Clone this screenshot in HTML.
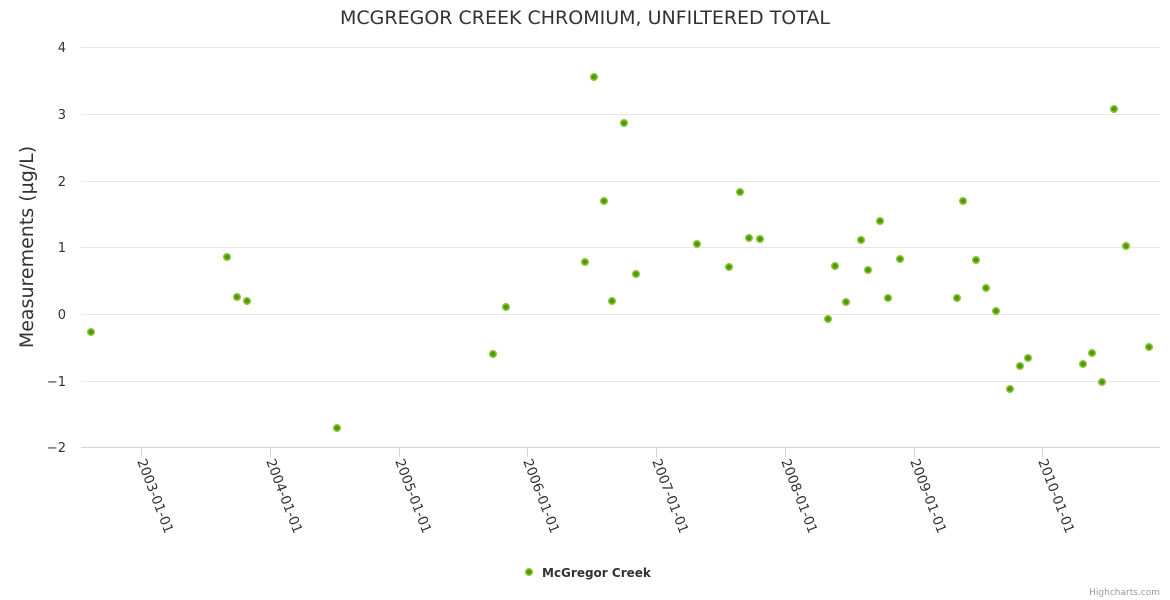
<!DOCTYPE html>
<html><head><meta charset="utf-8"><style>body{margin:0;background:#fff}svg{display:block;font-family:"DejaVu Sans",sans-serif}</style></head><body>
<svg width="1170" height="600" xmlns="http://www.w3.org/2000/svg">
<rect width="1170" height="600" fill="#fff"/>
<text x="585" y="24" text-anchor="middle" font-size="19" fill="#333">MCGREGOR CREEK CHROMIUM, UNFILTERED TOTAL</text>
<g stroke="#e6e6e6" stroke-width="1">
<line x1="81" y1="47.5" x2="1160" y2="47.5"/><line x1="81" y1="114.5" x2="1160" y2="114.5"/><line x1="81" y1="181.5" x2="1160" y2="181.5"/><line x1="81" y1="247.5" x2="1160" y2="247.5"/><line x1="81" y1="314.5" x2="1160" y2="314.5"/><line x1="81" y1="381.5" x2="1160" y2="381.5"/>
</g>
<line x1="81" y1="447.5" x2="1160" y2="447.5" stroke="#ccd6eb"/>
<g stroke="#ccd6eb"><line x1="141.5" y1="447" x2="141.5" y2="457"/><line x1="270.5" y1="447" x2="270.5" y2="457"/><line x1="399.5" y1="447" x2="399.5" y2="457"/><line x1="527.5" y1="447" x2="527.5" y2="457"/><line x1="656.5" y1="447" x2="656.5" y2="457"/><line x1="785.5" y1="447" x2="785.5" y2="457"/><line x1="914.5" y1="447" x2="914.5" y2="457"/><line x1="1042.5" y1="447" x2="1042.5" y2="457"/></g>
<g font-size="13" fill="#333" text-anchor="end">
<text x="66" y="52">4</text><text x="66" y="119">3</text><text x="66" y="186">2</text><text x="66" y="252">1</text><text x="66" y="319">0</text><text x="66" y="386">−1</text><text x="66" y="452">−2</text>
</g>
<text transform="translate(33,247) rotate(-90)" text-anchor="middle" font-size="19" fill="#333">Measurements (µg/L)</text>
<g font-size="13.5" fill="#333">
<text transform="translate(137,461) rotate(69)">2003-01-01</text>
<text transform="translate(266,461) rotate(69)">2004-01-01</text>
<text transform="translate(395,461) rotate(69)">2005-01-01</text>
<text transform="translate(523,461) rotate(69)">2006-01-01</text>
<text transform="translate(652,461) rotate(69)">2007-01-01</text>
<text transform="translate(781,461) rotate(69)">2008-01-01</text>
<text transform="translate(910,461) rotate(69)">2009-01-01</text>
<text transform="translate(1038,461) rotate(69)">2010-01-01</text>
</g>
<g fill="#4f9a00" stroke="#8cc63f" stroke-width="1.5">
<circle cx="91" cy="332" r="3.3"/><circle cx="227" cy="257" r="3.3"/><circle cx="237" cy="297" r="3.3"/><circle cx="247" cy="301" r="3.3"/><circle cx="337" cy="428" r="3.3"/><circle cx="493" cy="354" r="3.3"/><circle cx="506" cy="307" r="3.3"/><circle cx="585" cy="262" r="3.3"/><circle cx="594" cy="77" r="3.3"/><circle cx="604" cy="201" r="3.3"/><circle cx="612" cy="301" r="3.3"/><circle cx="624" cy="123" r="3.3"/><circle cx="636" cy="274" r="3.3"/><circle cx="697" cy="244" r="3.3"/><circle cx="729" cy="267" r="3.3"/><circle cx="740" cy="192" r="3.3"/><circle cx="749" cy="238" r="3.3"/><circle cx="760" cy="239" r="3.3"/><circle cx="828" cy="319" r="3.3"/><circle cx="835" cy="266" r="3.3"/><circle cx="846" cy="302" r="3.3"/><circle cx="861" cy="240" r="3.3"/><circle cx="868" cy="270" r="3.3"/><circle cx="880" cy="221" r="3.3"/><circle cx="888" cy="298" r="3.3"/><circle cx="900" cy="259" r="3.3"/><circle cx="957" cy="298" r="3.3"/><circle cx="963" cy="201" r="3.3"/><circle cx="976" cy="260" r="3.3"/><circle cx="986" cy="288" r="3.3"/><circle cx="996" cy="311" r="3.3"/><circle cx="1010" cy="389" r="3.3"/><circle cx="1020" cy="366" r="3.3"/><circle cx="1028" cy="358" r="3.3"/><circle cx="1083" cy="364" r="3.3"/><circle cx="1092" cy="353" r="3.3"/><circle cx="1102" cy="382" r="3.3"/><circle cx="1114" cy="109" r="3.3"/><circle cx="1126" cy="246" r="3.3"/><circle cx="1149" cy="347" r="3.3"/>
<circle cx="529" cy="572" r="3.3"/>
</g>
<text x="542" y="577" font-size="12" font-weight="bold" fill="#333">McGregor Creek</text>
<text x="1160" y="595" text-anchor="end" font-size="9" fill="#999">Highcharts.com</text>
</svg>
</body></html>
